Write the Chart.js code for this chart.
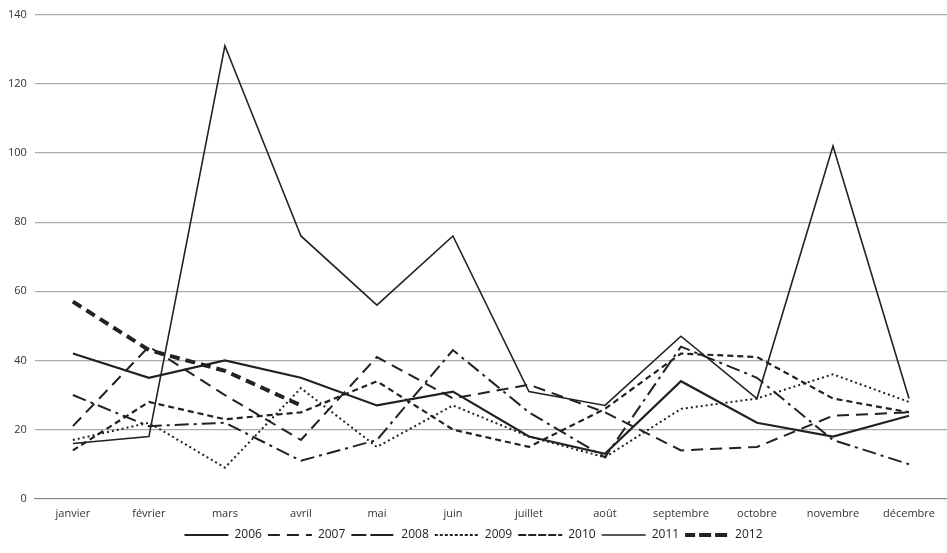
<!DOCTYPE html>
<html>
<head>
<meta charset="utf-8">
<script src="https://cdn.jsdelivr.net/npm/chart.js@4"></script>
<style>
html, body { margin: 0; padding: 0; background: #fff; }
#wrap { width: 947px; height: 553px; }
</style>
</head>
<body>
<div id="wrap"><canvas id="grafico"></canvas></div>
<script>
const mois = ["janvier", "février", "mars", "avril", "mai", "juin", "juillet", "août", "septembre", "octobre", "novembre", "décembre"];
const v2006 = [42, 35, 40, 35, 27, 31, 18, 13, 34, 22, 18, 24];
const v2007 = [21, 44, 30, 17, 41, 29, 33, 25, 14, 15, 24, 25];
const v2008 = [30, 21, 22, 11, 17, 43, 25, 12, 44, 35, 17, 10];
const v2009 = [17, 22, 9, 32, 15, 27, 18, 12, 26, 29, 36, 28];
const v2010 = [14, 28, 23, 25, 34, 20, 15, 26, 42, 41, 29, 25];
const v2011 = [16, 18, 131, 76, 56, 76, 31, 27, 47, 29, 102, 29];
const v2012 = [57, 43, 37, 27, null, null, null, null, null, null, null, null];

function serie(label, data, width, dash) {
    return {
        label: label,
        data: data,
        borderColor: "#222",
        backgroundColor: "#222",
        borderWidth: width,
        borderDash: dash,
        pointRadius: 0,
        tension: 0,
        fill: false
    };
}

const ctx = document.getElementById("grafico").getContext("2d");
new Chart(ctx, {
    type: "line",
    data: {
        labels: mois,
        datasets: [
            serie("2006", v2006, 2.2, []),
            serie("2007", v2007, 2, [12, 7]),
            serie("2008", v2008, 2, [14, 5, 3, 5]),
            serie("2009", v2009, 2, [2, 3]),
            serie("2010", v2010, 2.2, [6, 4]),
            serie("2011", v2011, 1.6, []),
            serie("2012", v2012, 4, [10, 6])
        ]
    },
    options: {
        responsive: true,
        maintainAspectRatio: false,
        animation: false,
        layout: { padding: { top: 12, right: 0, left: 0, bottom: 2 } },
        plugins: {
            legend: {
                position: "bottom",
                labels: {
                    boxWidth: 44,
                    boxHeight: 0,
                    padding: 6,
                    color: "#222",
                    font: { family: "Open Sans", size: 12 },
                    generateLabels: function (chart) {
                        const items = Chart.defaults.plugins.legend.labels.generateLabels(chart);
                        items.forEach(it => { it.fillStyle = "rgba(0,0,0,0)"; });
                        return items;
                    }
                }
            },
            tooltip: { enabled: false }
        },
        scales: {
            x: {
                offset: true,
                grid: { display: false, drawTicks: true, tickLength: 5, color: "#888" },
                border: { color: "#888" },
                ticks: { color: "#333", font: { family: "Open Sans", size: 11 }, maxRotation: 0, autoSkip: false }
            },
            y: {
                min: 0,
                max: 140,
                ticks: { stepSize: 20, color: "#333", font: { family: "Open Sans", size: 11 }, padding: 8 },
                grid: { color: "#aaa", lineWidth: 1.2, drawTicks: false },
                border: { display: false }
            }
        }
    }
});
</script>
</body>
</html>
